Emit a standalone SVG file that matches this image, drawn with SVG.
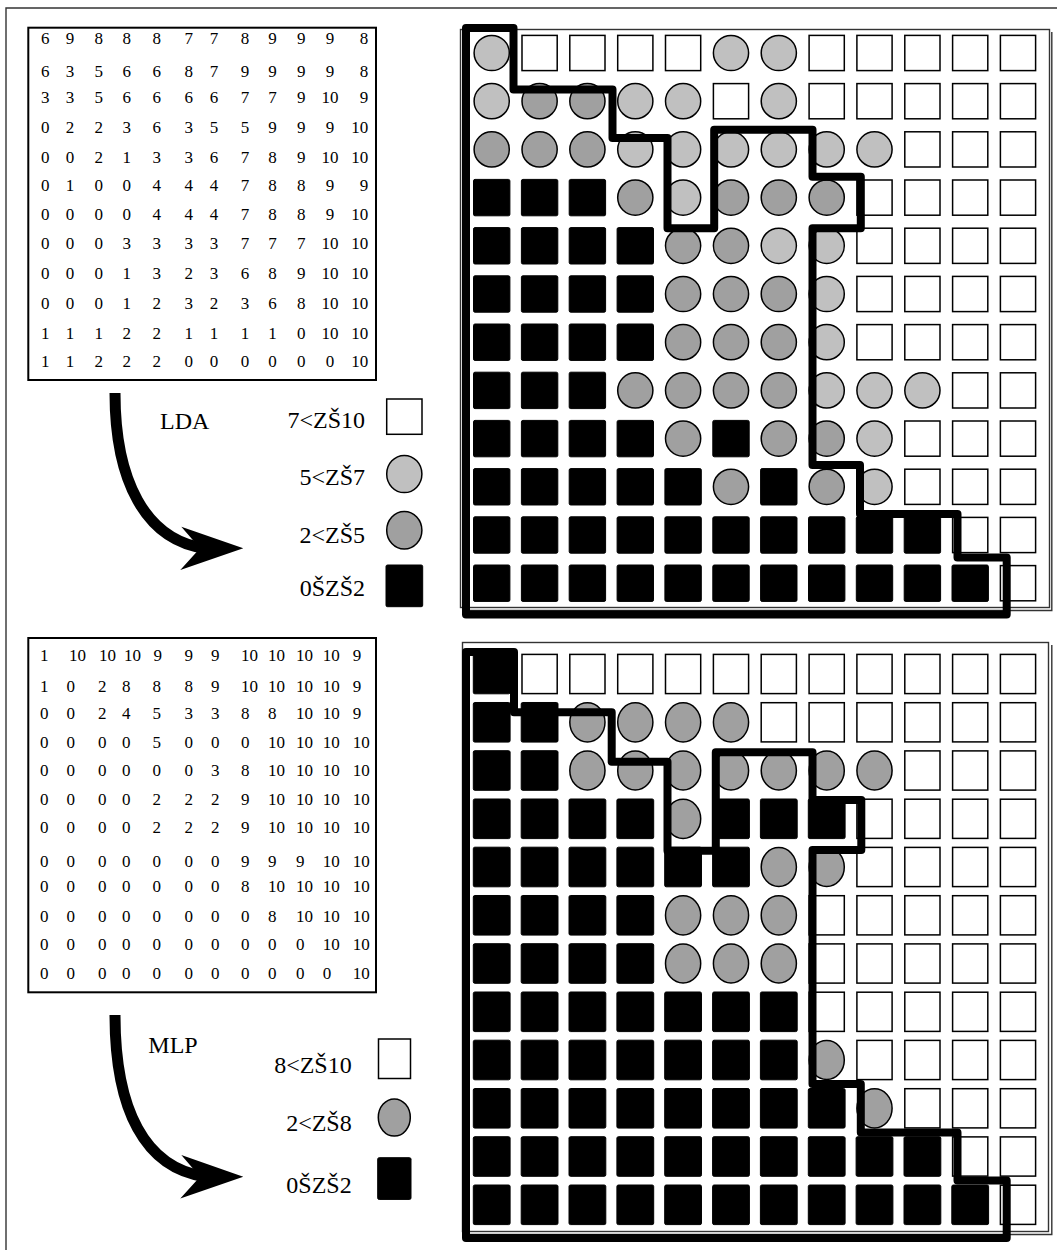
<svg xmlns="http://www.w3.org/2000/svg" width="1057" height="1250" viewBox="0 0 1057 1250">
<style>
  .num{font-family:"Liberation Serif","Times New Roman",serif;font-size:17px;fill:#000}
  .mid{text-anchor:middle}
  .lab{font-family:"Liberation Serif","Times New Roman",serif;font-size:24px;fill:#000}
  .end{text-anchor:end}
  .box{fill:#fff;stroke:#000;stroke-width:2}
  .frame{fill:none;stroke:#333;stroke-width:1.4}
  .zone{fill:none;stroke:#000;stroke-width:8;stroke-linejoin:round}
  .curve{fill:none;stroke:#000;stroke-width:11}
  .wsq{fill:#fff;stroke:#000;stroke-width:1.5}
  .lt{fill:#c0c0c0;stroke:#000;stroke-width:1.5}
  .dk{fill:#a0a0a0;stroke:#000;stroke-width:1.5}
  .blk{fill:#000;stroke:#000;stroke-width:1}
</style>
<defs>
  <!-- upper map cells (centred on origin) -->
  <rect id="tw" class="wsq" x="-17.6" y="-17.6" width="35.2" height="35.2"/>
  <circle id="tl" class="lt" r="17.6"/>
  <circle id="td" class="dk" r="17.6"/>
  <rect id="tb" class="blk" x="-18.2" y="-18.2" width="36.4" height="36.4" rx="1.5"/>
  <!-- lower map cells, slightly taller -->
  <rect id="bw" class="wsq" x="-17.6" y="-19.6" width="35.2" height="39.2"/>
  <ellipse id="bg" class="dk" rx="17.6" ry="19.6"/>
  <rect id="bb" class="blk" x="-18.4" y="-19.8" width="36.8" height="39.6" rx="1.5"/>
  <!-- stealth arrow head, tip at origin -->
  <path id="head" d="M0,0 L-62,-21.6 L-43.3,0 L-63,21.7 Z" fill="#000"/>
</defs>

<!-- page frame -->
<path class="frame" d="M6,1250 V8 H1057"/>

<!-- ===== upper panel: LDA ===== -->
<g id="lda-matrix">
  <rect class="box" x="28.3" y="27.7" width="347.7" height="352.3"/>
  <text class="num mid" y="44.3"><tspan x="45.3">6</tspan><tspan x="70">9</tspan><tspan x="98.7">8</tspan><tspan x="126.7">8</tspan><tspan x="156.7">8</tspan><tspan x="188.7">7</tspan><tspan x="214">7</tspan><tspan x="245">8</tspan><tspan x="272.5">9</tspan><tspan x="301.3">9</tspan><tspan x="330">9</tspan><tspan x="364">8</tspan></text>
  <text class="num mid" y="76.7"><tspan x="45.3">6</tspan><tspan x="70">3</tspan><tspan x="98.7">5</tspan><tspan x="126.7">6</tspan><tspan x="156.7">6</tspan><tspan x="188.7">8</tspan><tspan x="214">7</tspan><tspan x="245">9</tspan><tspan x="272.5">9</tspan><tspan x="301.3">9</tspan><tspan x="330">9</tspan><tspan x="364">8</tspan></text>
  <text class="num mid" y="102.7"><tspan x="45.3">3</tspan><tspan x="70">3</tspan><tspan x="98.7">5</tspan><tspan x="126.7">6</tspan><tspan x="156.7">6</tspan><tspan x="188.7">6</tspan><tspan x="214">6</tspan><tspan x="245">7</tspan><tspan x="272.5">7</tspan><tspan x="301.3">9</tspan><tspan x="330">10</tspan><tspan x="364">9</tspan></text>
  <text class="num mid" y="132.7"><tspan x="45.3">0</tspan><tspan x="70">2</tspan><tspan x="98.7">2</tspan><tspan x="126.7">3</tspan><tspan x="156.7">6</tspan><tspan x="188.7">3</tspan><tspan x="214">5</tspan><tspan x="245">5</tspan><tspan x="272.5">9</tspan><tspan x="301.3">9</tspan><tspan x="330">9</tspan><tspan x="359.8">10</tspan></text>
  <text class="num mid" y="162.7"><tspan x="45.3">0</tspan><tspan x="70">0</tspan><tspan x="98.7">2</tspan><tspan x="126.7">1</tspan><tspan x="156.7">3</tspan><tspan x="188.7">3</tspan><tspan x="214">6</tspan><tspan x="245">7</tspan><tspan x="272.5">8</tspan><tspan x="301.3">9</tspan><tspan x="330">10</tspan><tspan x="359.8">10</tspan></text>
  <text class="num mid" y="191"><tspan x="45.3">0</tspan><tspan x="70">1</tspan><tspan x="98.7">0</tspan><tspan x="126.7">0</tspan><tspan x="156.7">4</tspan><tspan x="188.7">4</tspan><tspan x="214">4</tspan><tspan x="245">7</tspan><tspan x="272.5">8</tspan><tspan x="301.3">8</tspan><tspan x="330">9</tspan><tspan x="364">9</tspan></text>
  <text class="num mid" y="220"><tspan x="45.3">0</tspan><tspan x="70">0</tspan><tspan x="98.7">0</tspan><tspan x="126.7">0</tspan><tspan x="156.7">4</tspan><tspan x="188.7">4</tspan><tspan x="214">4</tspan><tspan x="245">7</tspan><tspan x="272.5">8</tspan><tspan x="301.3">8</tspan><tspan x="330">9</tspan><tspan x="359.8">10</tspan></text>
  <text class="num mid" y="249.3"><tspan x="45.3">0</tspan><tspan x="70">0</tspan><tspan x="98.7">0</tspan><tspan x="126.7">3</tspan><tspan x="156.7">3</tspan><tspan x="188.7">3</tspan><tspan x="214">3</tspan><tspan x="245">7</tspan><tspan x="272.5">7</tspan><tspan x="301.3">7</tspan><tspan x="330">10</tspan><tspan x="359.8">10</tspan></text>
  <text class="num mid" y="278.7"><tspan x="45.3">0</tspan><tspan x="70">0</tspan><tspan x="98.7">0</tspan><tspan x="126.7">1</tspan><tspan x="156.7">3</tspan><tspan x="188.7">2</tspan><tspan x="214">3</tspan><tspan x="245">6</tspan><tspan x="272.5">8</tspan><tspan x="301.3">9</tspan><tspan x="330">10</tspan><tspan x="359.8">10</tspan></text>
  <text class="num mid" y="308.7"><tspan x="45.3">0</tspan><tspan x="70">0</tspan><tspan x="98.7">0</tspan><tspan x="126.7">1</tspan><tspan x="156.7">2</tspan><tspan x="188.7">3</tspan><tspan x="214">2</tspan><tspan x="245">3</tspan><tspan x="272.5">6</tspan><tspan x="301.3">8</tspan><tspan x="330">10</tspan><tspan x="359.8">10</tspan></text>
  <text class="num mid" y="338.7"><tspan x="45.3">1</tspan><tspan x="70">1</tspan><tspan x="98.7">1</tspan><tspan x="126.7">2</tspan><tspan x="156.7">2</tspan><tspan x="188.7">1</tspan><tspan x="214">1</tspan><tspan x="245">1</tspan><tspan x="272.5">1</tspan><tspan x="301.3">0</tspan><tspan x="330">10</tspan><tspan x="359.8">10</tspan></text>
  <text class="num mid" y="366.7"><tspan x="45.3">1</tspan><tspan x="70">1</tspan><tspan x="98.7">2</tspan><tspan x="126.7">2</tspan><tspan x="156.7">2</tspan><tspan x="188.7">0</tspan><tspan x="214">0</tspan><tspan x="245">0</tspan><tspan x="272.5">0</tspan><tspan x="301.3">0</tspan><tspan x="330">0</tspan><tspan x="359.8">10</tspan></text>
</g>

<g id="lda-arrow">
  <path class="curve" d="M115,393 C115,480 145,540 205,548.3"/>
  <use href="#head" x="243.3" y="548.3"/>
  <text class="lab" x="160" y="429">LDA</text>
</g>

<g id="lda-legend">
  <text class="lab end" x="365" y="428.3">7&lt;ZŠ10</text>
  <rect class="wsq" x="386.7" y="399" width="35.3" height="35.3"/>
  <text class="lab end" x="365" y="485">5&lt;ZŠ7</text>
  <ellipse class="lt" cx="404.3" cy="474" rx="17.6" ry="18.6"/>
  <text class="lab end" x="365" y="543">2&lt;ZŠ5</text>
  <ellipse class="dk" cx="404.3" cy="530.3" rx="17.6" ry="18.8"/>
  <text class="lab end" x="365" y="596">0ŠZŠ2</text>
  <rect class="blk" x="386" y="565" width="36.7" height="41.7" rx="1.5"/>
</g>

<g id="lda-map">
  <rect class="frame" x="460.5" y="29.5" width="589" height="578"/>
  <path class="frame" d="M1051.8,32 V610.5 H463"/>
  <g transform="translate(0,53)"><use href="#tl" x="491.7"/><use href="#tw" x="539.6"/><use href="#tw" x="587.4"/><use href="#tw" x="635.3"/><use href="#tw" x="683.1"/><use href="#tl" x="731"/><use href="#tl" x="778.8"/><use href="#tw" x="826.7"/><use href="#tw" x="874.5"/><use href="#tw" x="922.4"/><use href="#tw" x="970.2"/><use href="#tw" x="1018"/></g>
  <g transform="translate(0,101.2)"><use href="#tl" x="491.7"/><use href="#td" x="539.6"/><use href="#td" x="587.4"/><use href="#tl" x="635.3"/><use href="#tl" x="683.1"/><use href="#tw" x="731"/><use href="#tl" x="778.8"/><use href="#tw" x="826.7"/><use href="#tw" x="874.5"/><use href="#tw" x="922.4"/><use href="#tw" x="970.2"/><use href="#tw" x="1018"/></g>
  <g transform="translate(0,149.4)"><use href="#td" x="491.7"/><use href="#td" x="539.6"/><use href="#td" x="587.4"/><use href="#tl" x="635.3"/><use href="#tl" x="683.1"/><use href="#tl" x="731"/><use href="#tl" x="778.8"/><use href="#tl" x="826.7"/><use href="#tl" x="874.5"/><use href="#tw" x="922.4"/><use href="#tw" x="970.2"/><use href="#tw" x="1018"/></g>
  <g transform="translate(0,197.6)"><use href="#tb" x="491.7"/><use href="#tb" x="539.6"/><use href="#tb" x="587.4"/><use href="#td" x="635.3"/><use href="#tl" x="683.1"/><use href="#td" x="731"/><use href="#td" x="778.8"/><use href="#td" x="826.7"/><use href="#tw" x="874.5"/><use href="#tw" x="922.4"/><use href="#tw" x="970.2"/><use href="#tw" x="1018"/></g>
  <g transform="translate(0,245.8)"><use href="#tb" x="491.7"/><use href="#tb" x="539.6"/><use href="#tb" x="587.4"/><use href="#tb" x="635.3"/><use href="#td" x="683.1"/><use href="#td" x="731"/><use href="#tl" x="778.8"/><use href="#tl" x="826.7"/><use href="#tw" x="874.5"/><use href="#tw" x="922.4"/><use href="#tw" x="970.2"/><use href="#tw" x="1018"/></g>
  <g transform="translate(0,294)"><use href="#tb" x="491.7"/><use href="#tb" x="539.6"/><use href="#tb" x="587.4"/><use href="#tb" x="635.3"/><use href="#td" x="683.1"/><use href="#td" x="731"/><use href="#td" x="778.8"/><use href="#tl" x="826.7"/><use href="#tw" x="874.5"/><use href="#tw" x="922.4"/><use href="#tw" x="970.2"/><use href="#tw" x="1018"/></g>
  <g transform="translate(0,342.2)"><use href="#tb" x="491.7"/><use href="#tb" x="539.6"/><use href="#tb" x="587.4"/><use href="#tb" x="635.3"/><use href="#td" x="683.1"/><use href="#td" x="731"/><use href="#td" x="778.8"/><use href="#tl" x="826.7"/><use href="#tw" x="874.5"/><use href="#tw" x="922.4"/><use href="#tw" x="970.2"/><use href="#tw" x="1018"/></g>
  <g transform="translate(0,390.4)"><use href="#tb" x="491.7"/><use href="#tb" x="539.6"/><use href="#tb" x="587.4"/><use href="#td" x="635.3"/><use href="#td" x="683.1"/><use href="#td" x="731"/><use href="#td" x="778.8"/><use href="#tl" x="826.7"/><use href="#tl" x="874.5"/><use href="#tl" x="922.4"/><use href="#tw" x="970.2"/><use href="#tw" x="1018"/></g>
  <g transform="translate(0,438.6)"><use href="#tb" x="491.7"/><use href="#tb" x="539.6"/><use href="#tb" x="587.4"/><use href="#tb" x="635.3"/><use href="#td" x="683.1"/><use href="#tb" x="731"/><use href="#td" x="778.8"/><use href="#td" x="826.7"/><use href="#tl" x="874.5"/><use href="#tw" x="922.4"/><use href="#tw" x="970.2"/><use href="#tw" x="1018"/></g>
  <g transform="translate(0,486.8)"><use href="#tb" x="491.7"/><use href="#tb" x="539.6"/><use href="#tb" x="587.4"/><use href="#tb" x="635.3"/><use href="#tb" x="683.1"/><use href="#td" x="731"/><use href="#tb" x="778.8"/><use href="#td" x="826.7"/><use href="#tl" x="874.5"/><use href="#tw" x="922.4"/><use href="#tw" x="970.2"/><use href="#tw" x="1018"/></g>
  <g transform="translate(0,535)"><use href="#tb" x="491.7"/><use href="#tb" x="539.6"/><use href="#tb" x="587.4"/><use href="#tb" x="635.3"/><use href="#tb" x="683.1"/><use href="#tb" x="731"/><use href="#tb" x="778.8"/><use href="#tb" x="826.7"/><use href="#tb" x="874.5"/><use href="#tb" x="922.4"/><use href="#tw" x="970.2"/><use href="#tw" x="1018"/></g>
  <g transform="translate(0,583.2)"><use href="#tb" x="491.7"/><use href="#tb" x="539.6"/><use href="#tb" x="587.4"/><use href="#tb" x="635.3"/><use href="#tb" x="683.1"/><use href="#tb" x="731"/><use href="#tb" x="778.8"/><use href="#tb" x="826.7"/><use href="#tb" x="874.5"/><use href="#tb" x="922.4"/><use href="#tb" x="970.2"/><use href="#tw" x="1018"/></g>
  <path class="zone" d="M466,614.5 V28 H513.5 V89.5 H612.5 V138 H667.5 V228.3 H714.2 V129.7 H812.5 V176.7 H860.8 V228.3 H812.5 V465 H860 V514 H957.5 V557.5 H1006.7 V614.5 Z"/>
</g>

<!-- ===== lower panel: MLP ===== -->
<g id="mlp-matrix">
  <rect class="box" x="28.3" y="638" width="347.7" height="354.3"/>
  <text class="num" y="661.3"><tspan x="40">1</tspan><tspan x="69">10</tspan><tspan x="99">10</tspan><tspan x="124">10</tspan><tspan x="153.5">9</tspan><tspan x="184.5">9</tspan><tspan x="211">9</tspan><tspan x="241">10</tspan><tspan x="268">10</tspan><tspan x="296">10</tspan><tspan x="322.7">10</tspan><tspan x="352.7">9</tspan></text>
  <text class="num" y="691.7"><tspan x="40">1</tspan><tspan x="66.5">0</tspan><tspan x="98">2</tspan><tspan x="122">8</tspan><tspan x="152.5">8</tspan><tspan x="184.5">8</tspan><tspan x="211">9</tspan><tspan x="241">10</tspan><tspan x="268">10</tspan><tspan x="296">10</tspan><tspan x="322.7">10</tspan><tspan x="352.7">9</tspan></text>
  <text class="num" y="719.3"><tspan x="40">0</tspan><tspan x="66.5">0</tspan><tspan x="98">2</tspan><tspan x="122">4</tspan><tspan x="152.5">5</tspan><tspan x="184.5">3</tspan><tspan x="211">3</tspan><tspan x="241">8</tspan><tspan x="268">8</tspan><tspan x="296">10</tspan><tspan x="322.7">10</tspan><tspan x="352.7">9</tspan></text>
  <text class="num" y="747.7"><tspan x="40">0</tspan><tspan x="66.5">0</tspan><tspan x="98">0</tspan><tspan x="122">0</tspan><tspan x="152.5">5</tspan><tspan x="184.5">0</tspan><tspan x="211">0</tspan><tspan x="241">0</tspan><tspan x="268">10</tspan><tspan x="296">10</tspan><tspan x="322.7">10</tspan><tspan x="352.7">10</tspan></text>
  <text class="num" y="776"><tspan x="40">0</tspan><tspan x="66.5">0</tspan><tspan x="98">0</tspan><tspan x="122">0</tspan><tspan x="152.5">0</tspan><tspan x="184.5">0</tspan><tspan x="211">3</tspan><tspan x="241">8</tspan><tspan x="268">10</tspan><tspan x="296">10</tspan><tspan x="322.7">10</tspan><tspan x="352.7">10</tspan></text>
  <text class="num" y="805"><tspan x="40">0</tspan><tspan x="66.5">0</tspan><tspan x="98">0</tspan><tspan x="122">0</tspan><tspan x="152.5">2</tspan><tspan x="184.5">2</tspan><tspan x="211">2</tspan><tspan x="241">9</tspan><tspan x="268">10</tspan><tspan x="296">10</tspan><tspan x="322.7">10</tspan><tspan x="352.7">10</tspan></text>
  <text class="num" y="833.3"><tspan x="40">0</tspan><tspan x="66.5">0</tspan><tspan x="98">0</tspan><tspan x="122">0</tspan><tspan x="152.5">2</tspan><tspan x="184.5">2</tspan><tspan x="211">2</tspan><tspan x="241">9</tspan><tspan x="268">10</tspan><tspan x="296">10</tspan><tspan x="322.7">10</tspan><tspan x="352.7">10</tspan></text>
  <text class="num" y="866.7"><tspan x="40">0</tspan><tspan x="66.5">0</tspan><tspan x="98">0</tspan><tspan x="122">0</tspan><tspan x="152.5">0</tspan><tspan x="184.5">0</tspan><tspan x="211">0</tspan><tspan x="241">9</tspan><tspan x="268">9</tspan><tspan x="296">9</tspan><tspan x="322.7">10</tspan><tspan x="352.7">10</tspan></text>
  <text class="num" y="891.7"><tspan x="40">0</tspan><tspan x="66.5">0</tspan><tspan x="98">0</tspan><tspan x="122">0</tspan><tspan x="152.5">0</tspan><tspan x="184.5">0</tspan><tspan x="211">0</tspan><tspan x="241">8</tspan><tspan x="268">10</tspan><tspan x="296">10</tspan><tspan x="322.7">10</tspan><tspan x="352.7">10</tspan></text>
  <text class="num" y="921.7"><tspan x="40">0</tspan><tspan x="66.5">0</tspan><tspan x="98">0</tspan><tspan x="122">0</tspan><tspan x="152.5">0</tspan><tspan x="184.5">0</tspan><tspan x="211">0</tspan><tspan x="241">0</tspan><tspan x="268">8</tspan><tspan x="296">10</tspan><tspan x="322.7">10</tspan><tspan x="352.7">10</tspan></text>
  <text class="num" y="950"><tspan x="40">0</tspan><tspan x="66.5">0</tspan><tspan x="98">0</tspan><tspan x="122">0</tspan><tspan x="152.5">0</tspan><tspan x="184.5">0</tspan><tspan x="211">0</tspan><tspan x="241">0</tspan><tspan x="268">0</tspan><tspan x="296">0</tspan><tspan x="322.7">10</tspan><tspan x="352.7">10</tspan></text>
  <text class="num" y="978.7"><tspan x="40">0</tspan><tspan x="66.5">0</tspan><tspan x="98">0</tspan><tspan x="122">0</tspan><tspan x="152.5">0</tspan><tspan x="184.5">0</tspan><tspan x="211">0</tspan><tspan x="241">0</tspan><tspan x="268">0</tspan><tspan x="296">0</tspan><tspan x="322.7">0</tspan><tspan x="352.7">10</tspan></text>
</g>

<g id="mlp-arrow">
  <path class="curve" d="M115,1015 C115,1110 145,1168 205,1176.7"/>
  <use href="#head" x="243.3" y="1176.7"/>
  <text class="lab" x="148.3" y="1053.3">MLP</text>
</g>

<g id="mlp-legend">
  <text class="lab end" x="351.7" y="1073.3">8&lt;ZŠ10</text>
  <rect class="wsq" x="378.5" y="1039" width="32" height="39.5"/>
  <text class="lab end" x="351.7" y="1131">2&lt;ZŠ8</text>
  <ellipse class="dk" cx="394.3" cy="1117.5" rx="16" ry="18.6"/>
  <text class="lab end" x="351.7" y="1193.3">0ŠZŠ2</text>
  <rect class="blk" x="377.7" y="1157.7" width="33.3" height="41.7" rx="1.5"/>
</g>

<g id="mlp-map">
  <rect class="frame" x="462.5" y="642.5" width="586" height="589"/>
  <path class="frame" d="M1051.8,645 V1234.5 H465"/>
  <g transform="translate(0,674)"><use href="#bb" x="491.7"/><use href="#bw" x="539.6"/><use href="#bw" x="587.4"/><use href="#bw" x="635.3"/><use href="#bw" x="683.1"/><use href="#bw" x="731"/><use href="#bw" x="778.8"/><use href="#bw" x="826.7"/><use href="#bw" x="874.5"/><use href="#bw" x="922.4"/><use href="#bw" x="970.2"/><use href="#bw" x="1018"/></g>
  <g transform="translate(0,722.3)"><use href="#bb" x="491.7"/><use href="#bb" x="539.6"/><use href="#bg" x="587.4"/><use href="#bg" x="635.3"/><use href="#bg" x="683.1"/><use href="#bg" x="731"/><use href="#bw" x="778.8"/><use href="#bw" x="826.7"/><use href="#bw" x="874.5"/><use href="#bw" x="922.4"/><use href="#bw" x="970.2"/><use href="#bw" x="1018"/></g>
  <g transform="translate(0,770.5)"><use href="#bb" x="491.7"/><use href="#bb" x="539.6"/><use href="#bg" x="587.4"/><use href="#bg" x="635.3"/><use href="#bg" x="683.1"/><use href="#bg" x="731"/><use href="#bg" x="778.8"/><use href="#bg" x="826.7"/><use href="#bg" x="874.5"/><use href="#bw" x="922.4"/><use href="#bw" x="970.2"/><use href="#bw" x="1018"/></g>
  <g transform="translate(0,818.8)"><use href="#bb" x="491.7"/><use href="#bb" x="539.6"/><use href="#bb" x="587.4"/><use href="#bb" x="635.3"/><use href="#bg" x="683.1"/><use href="#bb" x="731"/><use href="#bb" x="778.8"/><use href="#bb" x="826.7"/><use href="#bw" x="874.5"/><use href="#bw" x="922.4"/><use href="#bw" x="970.2"/><use href="#bw" x="1018"/></g>
  <g transform="translate(0,867)"><use href="#bb" x="491.7"/><use href="#bb" x="539.6"/><use href="#bb" x="587.4"/><use href="#bb" x="635.3"/><use href="#bb" x="683.1"/><use href="#bb" x="731"/><use href="#bg" x="778.8"/><use href="#bg" x="826.7"/><use href="#bw" x="874.5"/><use href="#bw" x="922.4"/><use href="#bw" x="970.2"/><use href="#bw" x="1018"/></g>
  <g transform="translate(0,915.3)"><use href="#bb" x="491.7"/><use href="#bb" x="539.6"/><use href="#bb" x="587.4"/><use href="#bb" x="635.3"/><use href="#bg" x="683.1"/><use href="#bg" x="731"/><use href="#bg" x="778.8"/><use href="#bw" x="826.7"/><use href="#bw" x="874.5"/><use href="#bw" x="922.4"/><use href="#bw" x="970.2"/><use href="#bw" x="1018"/></g>
  <g transform="translate(0,963.5)"><use href="#bb" x="491.7"/><use href="#bb" x="539.6"/><use href="#bb" x="587.4"/><use href="#bb" x="635.3"/><use href="#bg" x="683.1"/><use href="#bg" x="731"/><use href="#bg" x="778.8"/><use href="#bw" x="826.7"/><use href="#bw" x="874.5"/><use href="#bw" x="922.4"/><use href="#bw" x="970.2"/><use href="#bw" x="1018"/></g>
  <g transform="translate(0,1011.8)"><use href="#bb" x="491.7"/><use href="#bb" x="539.6"/><use href="#bb" x="587.4"/><use href="#bb" x="635.3"/><use href="#bb" x="683.1"/><use href="#bb" x="731"/><use href="#bb" x="778.8"/><use href="#bw" x="826.7"/><use href="#bw" x="874.5"/><use href="#bw" x="922.4"/><use href="#bw" x="970.2"/><use href="#bw" x="1018"/></g>
  <g transform="translate(0,1060)"><use href="#bb" x="491.7"/><use href="#bb" x="539.6"/><use href="#bb" x="587.4"/><use href="#bb" x="635.3"/><use href="#bb" x="683.1"/><use href="#bb" x="731"/><use href="#bb" x="778.8"/><use href="#bg" x="826.7"/><use href="#bw" x="874.5"/><use href="#bw" x="922.4"/><use href="#bw" x="970.2"/><use href="#bw" x="1018"/></g>
  <g transform="translate(0,1108.3)"><use href="#bb" x="491.7"/><use href="#bb" x="539.6"/><use href="#bb" x="587.4"/><use href="#bb" x="635.3"/><use href="#bb" x="683.1"/><use href="#bb" x="731"/><use href="#bb" x="778.8"/><use href="#bb" x="826.7"/><use href="#bg" x="874.5"/><use href="#bw" x="922.4"/><use href="#bw" x="970.2"/><use href="#bw" x="1018"/></g>
  <g transform="translate(0,1156.5)"><use href="#bb" x="491.7"/><use href="#bb" x="539.6"/><use href="#bb" x="587.4"/><use href="#bb" x="635.3"/><use href="#bb" x="683.1"/><use href="#bb" x="731"/><use href="#bb" x="778.8"/><use href="#bb" x="826.7"/><use href="#bb" x="874.5"/><use href="#bb" x="922.4"/><use href="#bw" x="970.2"/><use href="#bw" x="1018"/></g>
  <g transform="translate(0,1204.8)"><use href="#bb" x="491.7"/><use href="#bb" x="539.6"/><use href="#bb" x="587.4"/><use href="#bb" x="635.3"/><use href="#bb" x="683.1"/><use href="#bb" x="731"/><use href="#bb" x="778.8"/><use href="#bb" x="826.7"/><use href="#bb" x="874.5"/><use href="#bb" x="922.4"/><use href="#bb" x="970.2"/><use href="#bw" x="1018"/></g>
  <path class="zone" d="M466,1238 V652 H514 V712.2 H611.7 V761.7 H667.5 V850.8 H715.8 V752.2 H812.5 V800 H861.3 V850 H812.5 V1084.1 H860.8 V1132.4 H957.5 V1180.6 H1006.7 V1238 Z"/>
</g>
</svg>
